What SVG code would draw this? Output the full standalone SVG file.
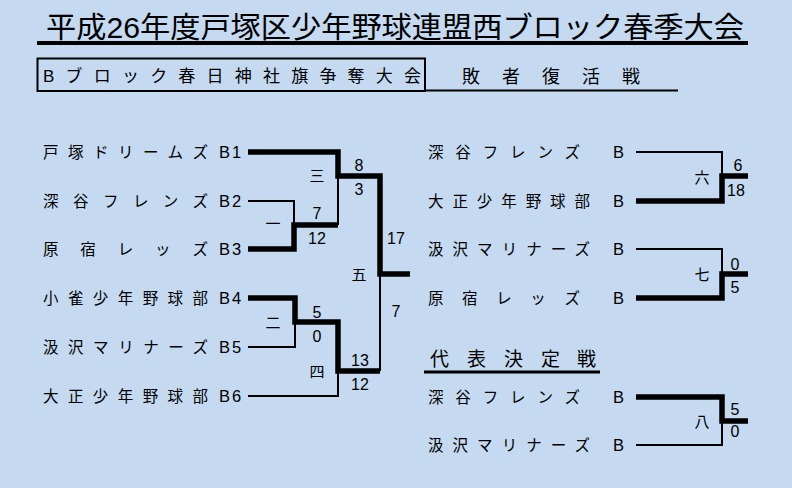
<svg xmlns="http://www.w3.org/2000/svg" width="792" height="488" viewBox="0 0 792 488">
<style>
.t{font-family:"Liberation Sans","Noto Sans CJK JP",sans-serif;fill:#000}
.jp{font-family:"Noto Sans CJK JP","Liberation Sans",sans-serif;fill:#000}
.nm{font-size:15.5px}
.tb{font-size:16.5px}
.sc{font-family:"Liberation Sans Narrow","Liberation Sans",sans-serif;font-size:16px;text-anchor:middle;fill:#000}
.gm{font-size:15px;text-anchor:middle}
.thin{stroke:#000;stroke-width:2;fill:none}
.thick{stroke:#000;stroke-width:5.5;fill:none;stroke-linejoin:miter}
</style>
<rect width="792" height="488" fill="#c5d9f1"/>
<g id="header">
<text class="t" x="46" y="38" font-size="29" textLength="698" lengthAdjust="spacingAndGlyphs">平成26年度戸塚区少年野球連盟西ブロック春季大会</text>
<line x1="37" y1="43" x2="748" y2="43" stroke="#000" stroke-width="4"/>
<rect x="37.5" y="58.5" width="387.5" height="32.5" fill="none" stroke="#000" stroke-width="2"/>
<text class="t" x="43" y="81.5" font-size="17" textLength="378" lengthAdjust="spacing">Bブロック春日神社旗争奪大会</text>
<text class="jp" x="462 502 542 582 622" y="82.5" font-size="18">敗者復活戦</text>
<line x1="425" y1="90.5" x2="678" y2="90.5" stroke="#000" stroke-width="2"/>
<text class="jp" x="430 467 504 541 577" y="366" font-size="19">代表決定戦</text>
<line x1="424" y1="372" x2="600" y2="372" stroke="#000" stroke-width="3"/>
</g>
<g id="connectors">
<path class="thin" d="M248 201H294V225"/>
<path class="thin" d="M338 176V225"/>
<path class="thin" d="M248 347H295V322"/>
<path class="thin" d="M248 396H338V371"/>
<path class="thin" d="M380 371V274"/>
<path class="thick" d="M248 152H338V176H380V274H410"/>
<path class="thick" d="M248 249H294V225H338"/>
<path class="thick" d="M248 298H295V322H338V371H380"/>
<path class="thin" d="M636 152H722V176"/>
<path class="thick" d="M636 201H722V176H748"/>
<path class="thin" d="M636 249H722V274"/>
<path class="thick" d="M636 298H722V274H748"/>
<path class="thick" d="M636 397H722V421H748"/>
<path class="thin" d="M722 421V445H636"/>
</g>
<g id="team-b1"><text class="t nm" x="43" y="157.8" textLength="165" lengthAdjust="spacing">戸塚ドリームズ</text><text class="t tb" x="219 232" y="157.8">B1</text></g>
<g id="team-b2"><text class="t nm" x="43" y="206.8" textLength="165" lengthAdjust="spacing">深谷フレンズ</text><text class="t tb" x="219 232" y="206.8">B2</text></g>
<g id="team-b3"><text class="t nm" x="43" y="254.8" textLength="165" lengthAdjust="spacing">原宿レッズ</text><text class="t tb" x="219 232" y="254.8">B3</text></g>
<g id="team-b4"><text class="t nm" x="43" y="303.8" textLength="165" lengthAdjust="spacing">小雀少年野球部</text><text class="t tb" x="219 232" y="303.8">B4</text></g>
<g id="team-b5"><text class="t nm" x="43" y="352.8" textLength="165" lengthAdjust="spacing">汲沢マリナーズ</text><text class="t tb" x="219 232" y="352.8">B5</text></g>
<g id="team-b6"><text class="t nm" x="43" y="401.8" textLength="165" lengthAdjust="spacing">大正少年野球部</text><text class="t tb" x="219 232" y="401.8">B6</text></g>
<g id="team-r1"><text class="t nm" x="428" y="157.8" textLength="152" lengthAdjust="spacing">深谷フレンズ</text><text class="t tb" x="613" y="157.8">B</text></g>
<g id="team-r2"><text class="t nm" x="428" y="206.8" textLength="162" lengthAdjust="spacing">大正少年野球部</text><text class="t tb" x="613" y="206.8">B</text></g>
<g id="team-r3"><text class="t nm" x="428" y="254.8" textLength="162" lengthAdjust="spacing">汲沢マリナーズ</text><text class="t tb" x="613" y="254.8">B</text></g>
<g id="team-r4"><text class="t nm" x="428" y="303.8" textLength="152" lengthAdjust="spacing">原宿レッズ</text><text class="t tb" x="613" y="303.8">B</text></g>
<g id="team-r5"><text class="t nm" x="428" y="402.8" textLength="152" lengthAdjust="spacing">深谷フレンズ</text><text class="t tb" x="613" y="402.8">B</text></g>
<g id="team-r6"><text class="t nm" x="428" y="450.8" textLength="162" lengthAdjust="spacing">汲沢マリナーズ</text><text class="t tb" x="613" y="450.8">B</text></g>
<g id="game-1"><text class="jp gm" x="273" y="228.7">一</text><text class="sc" x="317" y="219">7</text><text class="sc" x="317" y="244">12</text></g>
<g id="game-2"><text class="jp gm" x="273" y="327.7">二</text><text class="sc" x="317" y="318">5</text><text class="sc" x="317" y="342">0</text></g>
<g id="game-3"><text class="jp gm" x="317" y="180.7">三</text><text class="sc" x="359" y="170.5">8</text><text class="sc" x="359" y="195">3</text></g>
<g id="game-4"><text class="jp gm" x="317" y="376.7">四</text><text class="sc" x="360" y="366">13</text><text class="sc" x="360" y="390">12</text></g>
<g id="game-5"><text class="jp gm" x="359" y="279.7">五</text><text class="sc" x="396" y="244">17</text><text class="sc" x="396" y="317">7</text></g>
<g id="game-6"><text class="jp gm" x="702" y="183.2">六</text><text class="sc" x="738" y="171">6</text><text class="sc" x="736" y="196">18</text></g>
<g id="game-7"><text class="jp gm" x="702" y="279.7">七</text><text class="sc" x="735" y="270">0</text><text class="sc" x="735" y="293">5</text></g>
<g id="game-8"><text class="jp gm" x="702" y="426.7">八</text><text class="sc" x="735" y="415">5</text><text class="sc" x="735" y="437">0</text></g>
</svg>
